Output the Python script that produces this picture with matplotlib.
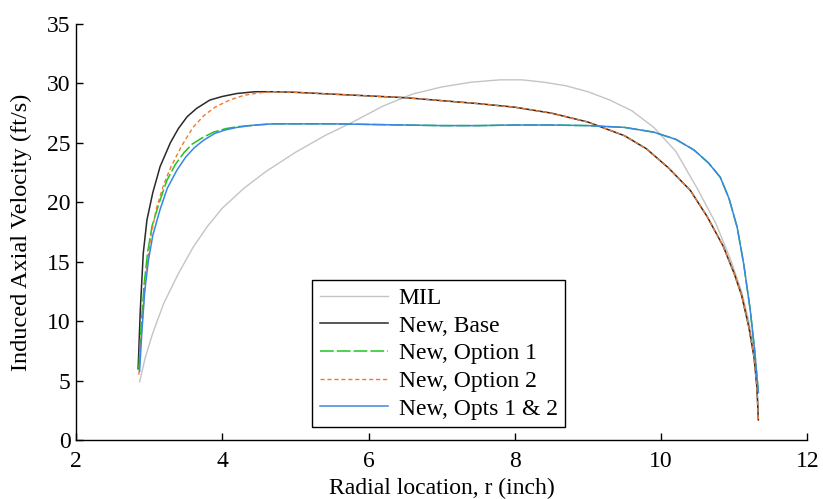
import matplotlib
matplotlib.use("Agg")
import matplotlib.pyplot as plt

plt.rcParams['font.family'] = ['Liberation Serif', 'DejaVu Serif']

# ---- data ----
r_mil = [2.87, 2.95, 3.05, 3.2, 3.4, 3.6, 3.8, 4.0, 4.3, 4.6, 5.0, 5.4, 5.8, 6.2, 6.6, 7.0, 7.4,
         7.8, 8.1, 8.4, 8.7, 9.0, 9.3, 9.6, 9.9, 10.2, 10.5, 10.75, 10.95, 11.1, 11.2, 11.28, 11.33]
v_mil = [4.9, 7.0, 9.0, 11.5, 14.0, 16.2, 18.0, 19.5, 21.2, 22.6, 24.2, 25.6, 26.8, 28.1, 29.1, 29.7, 30.1,
         30.3, 30.3, 30.1, 29.8, 29.3, 28.6, 27.7, 26.3, 24.3, 21.1, 18.2, 15.2, 12.5, 10.0, 7.0, 2.5]

r_base = [2.85, 2.88, 2.92, 2.97, 3.05, 3.15, 3.29, 3.4, 3.52, 3.65, 3.83, 4.0, 4.2, 4.45, 4.7, 5.0,
          5.5, 6.0, 6.5, 7.0, 7.5, 8.0, 8.5, 9.0, 9.5, 9.8, 10.1, 10.4, 10.63, 10.85, 11.0, 11.1,
          11.2, 11.27, 11.31, 11.33]
v_base = [6.0, 11.0, 15.7, 18.5, 20.8, 23.0, 25.0, 26.2, 27.2, 27.9, 28.6, 28.9, 29.15, 29.3, 29.3, 29.25,
          29.1, 28.95, 28.8, 28.55, 28.3, 28.0, 27.5, 26.75, 25.6, 24.5, 22.9, 21.0, 18.8, 16.3, 14.0, 12.2,
          9.5, 7.0, 4.5, 1.7]

r_opt1 = [2.86, 2.89, 2.93, 2.98, 3.04, 3.14, 3.24, 3.36, 3.48, 3.59, 3.72, 3.88, 4.05, 4.2, 4.45, 4.7,
          5.0, 5.5, 6.0, 6.5, 7.0, 7.5, 8.0, 8.5, 9.0, 9.5, 9.9, 10.2, 10.45, 10.65, 10.81, 10.93,
          11.04, 11.13, 11.22, 11.28, 11.33]
v_opt1 = [6.0, 9.5, 13.0, 15.8, 18.0, 20.0, 21.8, 23.2, 24.2, 24.9, 25.4, 25.9, 26.2, 26.35, 26.5, 26.6,
          26.6, 26.6, 26.55, 26.5, 26.45, 26.45, 26.5, 26.5, 26.45, 26.3, 25.9, 25.3, 24.4, 23.3, 22.1, 20.3,
          17.9, 14.8, 10.9, 7.5, 4.0]

r_opt2 = [2.86, 2.9, 2.95, 3.02, 3.1, 3.2, 3.3, 3.45, 3.6, 3.75, 3.9, 4.1, 4.3, 4.5, 4.7, 5.0,
          5.5, 6.0, 6.5, 7.0, 7.5, 8.0, 8.5, 9.0, 9.5, 9.8, 10.1, 10.4, 10.63, 10.85, 11.0, 11.1,
          11.2, 11.27, 11.31, 11.33]
v_opt2 = [5.5, 9.5, 13.5, 17.0, 19.5, 21.5, 23.0, 24.8, 26.3, 27.3, 28.0, 28.6, 29.0, 29.2, 29.3, 29.25,
          29.1, 28.95, 28.8, 28.55, 28.3, 28.0, 27.5, 26.75, 25.6, 24.5, 22.9, 21.0, 18.8, 16.3, 14.0, 12.2,
          9.5, 7.0, 4.5, 1.7]

r_both = [2.87, 2.9, 2.94, 2.99, 3.05, 3.15, 3.25, 3.38, 3.5, 3.62, 3.74, 3.9, 4.05, 4.2, 4.45, 4.7,
          5.0, 5.5, 6.0, 6.5, 7.0, 7.5, 8.0, 8.5, 9.0, 9.5, 9.9, 10.2, 10.45, 10.65, 10.81, 10.93,
          11.04, 11.13, 11.22, 11.28, 11.33]
v_both = [5.8, 9.0, 12.5, 15.1, 17.2, 19.4, 21.2, 22.7, 23.8, 24.6, 25.2, 25.8, 26.1, 26.3, 26.5, 26.6,
          26.6, 26.6, 26.55, 26.5, 26.45, 26.45, 26.5, 26.5, 26.45, 26.3, 25.9, 25.3, 24.4, 23.3, 22.1, 20.3,
          17.9, 14.8, 10.9, 7.5, 4.0]

labels = ["MIL", "New, Base", "New, Option 1", "New, Option 2", "New, Opts 1 & 2"]
xticks = [2, 4, 6, 8, 10, 12]
yticks = [0, 5, 10, 15, 20, 25, 30, 35]

fig = plt.figure(figsize=(8.23, 4.99), dpi=100)
ax = fig.add_axes([0.0923, 0.118, 0.8887, 0.834])

ax.plot(r_mil, v_mil, color='#c4c4c4', lw=1.0, label=labels[0])
ax.plot(r_base, v_base, color='#2a2a2a', lw=1.1, label=labels[1])
ax.plot(r_opt1, v_opt1, color='#1fc41f', lw=1.1, ls=(0, (9, 2)), label=labels[2])
ax.plot(r_opt2, v_opt2, color='#f07a30', lw=1.0, ls=(0, (3, 2)), label=labels[3])
ax.plot(r_both, v_both, color='#3a86e6', lw=1.1, label=labels[4])

ax.set_xlim(2, 12)
ax.set_ylim(0, 35)
ax.set_xticks(xticks)
ax.set_yticks(yticks)
ax.spines['top'].set_visible(False)
ax.spines['right'].set_visible(False)
for s in ('left', 'bottom'):
    ax.spines[s].set_linewidth(1.0)
ax.tick_params(direction='in', length=5, width=1, labelsize=17)
ax.tick_params(axis='x', pad=8)
ax.tick_params(axis='y', pad=4)

ax.set_xlabel("Radial location, r (inch)", fontsize=17, labelpad=4)
ax.set_ylabel("Induced Axial Velocity (ft/s)", fontsize=17.5, labelpad=11)

leg = ax.legend(loc='lower left', bbox_to_anchor=(0.323, 0.031), fontsize=17,
                frameon=True, fancybox=False, edgecolor='black', framealpha=1,
                handlelength=2.9, borderpad=0.32, labelspacing=0.26, handletextpad=0.45,
                borderaxespad=0)
leg.get_frame().set_linewidth(1.0)

fig.savefig("out.png", dpi=100)
